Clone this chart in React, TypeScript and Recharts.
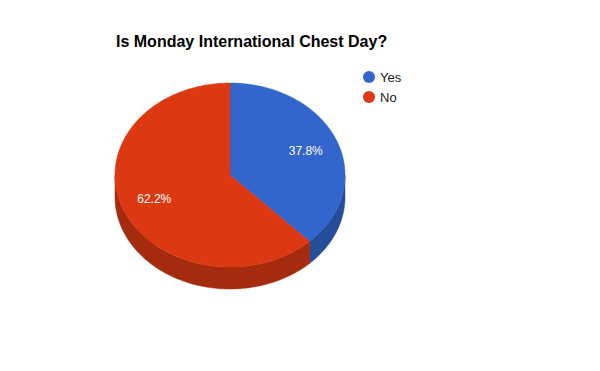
import React from 'react';
import { PieChart, Pie, Cell, Legend } from 'recharts';

const categories = ['Yes', 'No'];
const values = [14, 23];
const colors = ['#3366cc', '#dc3912'];
const sideColors = ['#264d99', '#a52b0e'];

const data = categories.map((name, i) => ({ name, value: values[i] }));

const TILT = 0.8;
const DEPTH = 22;
const RAD = Math.PI / 180;

const pt = (cx: number, cy: number, rx: number, a: number, dy = 0) => {
  const x = cx + rx * Math.cos(a * RAD);
  const y = cy - rx * TILT * Math.sin(a * RAD) + dy;
  return `${x.toFixed(2)},${y.toFixed(2)}`;
};

const arcPoints = (cx: number, cy: number, rx: number, from: number, to: number, dy = 0) => {
  const pts: string[] = [];
  const n = Math.max(2, Math.ceil(Math.abs(to - from)));
  for (let i = 0; i <= n; i++) {
    const a = from + ((to - from) * i) / n;
    pts.push(pt(cx, cy, rx, a, dy));
  }
  return pts;
};

const Slice3D = (props: any) => {
  const { cx, cy, outerRadius, startAngle, endAngle, index } = props;
  const s = Math.max(startAngle, endAngle);
  const e = Math.min(startAngle, endAngle);
  const lowers: [number, number][] = [];
  for (const [lo, hi] of [[-540, -360], [-180, 0], [180, 360]]) {
    const l = Math.max(lo, e);
    const h = Math.min(hi, s);
    if (h > l) lowers.push([l, h]);
  }
  const sides = lowers.map(([l, h], k) => {
    const top = arcPoints(cx, cy, outerRadius, h, l);
    const bot = arcPoints(cx, cy, outerRadius, l, h, DEPTH);
    return (
      <path
        key={k}
        d={`M${top.join(' L')} L${bot.join(' L')} Z`}
        fill={sideColors[index]}
        stroke={sideColors[index]}
        strokeWidth={0.5}
      />
    );
  });
  const topPts = arcPoints(cx, cy, outerRadius, s, e);
  return (
    <g>
      {sides}
      <path d={`M${cx},${cy} L${topPts.join(' L')} Z`} fill={colors[index]} stroke={colors[index]} strokeWidth={0.5} />
    </g>
  );
};

const renderLabel = (props: any) => {
  const { cx, cy, midAngle, outerRadius, percent } = props;
  const f = 0.71;
  const x = cx + f * outerRadius * Math.cos(midAngle * RAD);
  const y = cy - f * outerRadius * TILT * Math.sin(midAngle * RAD);
  return (
    <text x={x} y={y} fill="#ffffff" fontSize={12} fontFamily="Arial, 'Liberation Sans', sans-serif" textAnchor="middle" dominantBaseline="central">
      {(percent * 100).toFixed(1)}%
    </text>
  );
};

const renderLegend = (props: any) => {
  const payload = [...(props.payload || [])].sort(
    (a: any, b: any) => categories.indexOf(a.value) - categories.indexOf(b.value)
  );
  return (
    <div style={{ fontFamily: "Arial, 'Liberation Sans', sans-serif", fontSize: 13, color: '#222222' }}>
      {payload.map((p: any, i: number) => (
        <div key={i} style={{ display: 'flex', alignItems: 'center', height: 20 }}>
          <svg width={12} height={12} style={{ marginRight: 5 }}>
            <circle cx={6} cy={6} r={6} fill={p.color} />
          </svg>
          <span>{p.value}</span>
        </div>
      ))}
    </div>
  );
};

export default function App() {
  return (
    <div style={{ position: 'absolute', left: 0, top: 0, width: 600, height: 371, background: '#fff' }}>
      <div
        style={{
          position: 'absolute',
          left: 116,
          top: 33,
          fontFamily: "Arial, 'Liberation Sans', sans-serif",
          fontWeight: 'bold',
          fontSize: 16,
          color: '#000',
          whiteSpace: 'nowrap',
        }}
      >
        Is Monday International Chest Day?
      </div>
      <PieChart width={600} height={371} margin={{ top: 0, right: 0, bottom: 0, left: 0 }}>
        <Pie
          data={data}
          dataKey="value"
          nameKey="name"
          cx={230}
          cy={175}
          outerRadius={115}
          startAngle={90}
          endAngle={-270}
          shape={Slice3D}
          label={renderLabel}
          labelLine={false}
          isAnimationActive={false}
        >
          {data.map((d, i) => (
            <Cell key={d.name} fill={colors[i]} />
          ))}
        </Pie>
        <Legend
          content={renderLegend}
          layout="vertical"
          wrapperStyle={{ position: 'absolute', left: 363, top: 67, width: 80 }}
        />
      </PieChart>
    </div>
  );
}
